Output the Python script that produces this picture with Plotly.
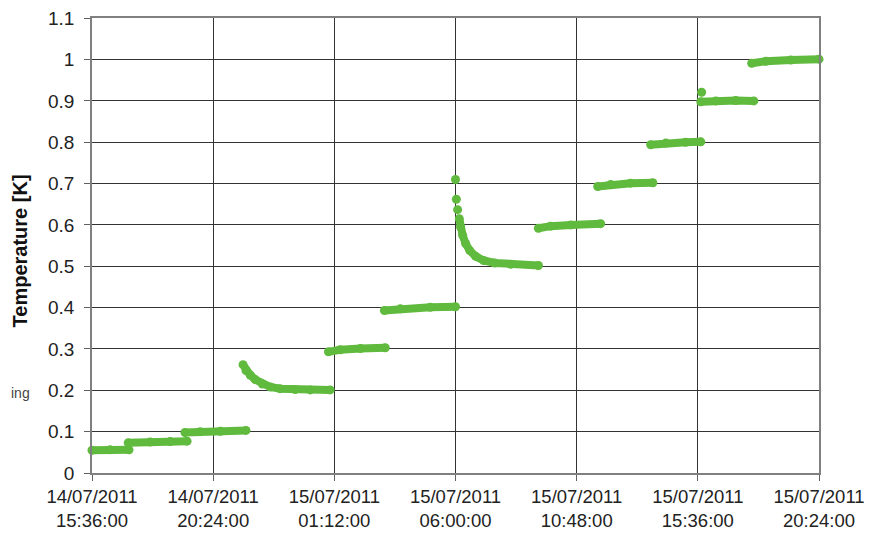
import plotly.graph_objects as go

GREEN = "#5fba3e"

# Continuous temperature plateaus / relaxations (None separates segments)
times = [
    "2011-07-14 15:36", "2011-07-14 16:19", "2011-07-14 17:04", None,
    "2011-07-14 17:02", "2011-07-14 17:54", "2011-07-14 18:42", "2011-07-14 19:22", None,
    "2011-07-14 19:17", "2011-07-14 19:53", "2011-07-14 20:41", "2011-07-14 21:42", None,
    "2011-07-14 21:35", "2011-07-14 21:42", "2011-07-14 21:52", "2011-07-14 22:04", "2011-07-14 22:21",
    "2011-07-14 22:40", "2011-07-14 23:03", "2011-07-14 23:39", "2011-07-15 00:15", "2011-07-15 01:02", None,
    "2011-07-15 00:58", "2011-07-15 01:26", "2011-07-15 02:14", "2011-07-15 03:13", None,
    "2011-07-15 03:11", "2011-07-15 03:49", "2011-07-15 05:00", "2011-07-15 06:00", None,
    "2011-07-15 06:09", "2011-07-15 06:12", "2011-07-15 06:17", "2011-07-15 06:24", "2011-07-15 06:34",
    "2011-07-15 06:48", "2011-07-15 07:07", "2011-07-15 07:33", "2011-07-15 08:11", "2011-07-15 09:17", None,
    "2011-07-15 09:17", "2011-07-15 09:46", "2011-07-15 10:34", "2011-07-15 11:45", None,
    "2011-07-15 11:38", "2011-07-15 12:09", "2011-07-15 12:56", "2011-07-15 13:49", None,
    "2011-07-15 13:44", "2011-07-15 14:20", "2011-07-15 15:07", "2011-07-15 15:43", None,
    "2011-07-15 15:43", "2011-07-15 16:19", "2011-07-15 17:06", "2011-07-15 17:49", None,
    "2011-07-15 17:44", "2011-07-15 18:18", "2011-07-15 19:17", "2011-07-15 20:24",
]
temps = [
    0.055, 0.056, 0.056, None,
    0.073, 0.075, 0.076, 0.077, None,
    0.098, 0.100, 0.101, 0.103, None,
    0.262, 0.248, 0.237, 0.226, 0.215,
    0.208, 0.204, 0.202, 0.201, 0.201, None,
    0.293, 0.298, 0.301, 0.303, None,
    0.393, 0.397, 0.401, 0.402, None,
    0.615, 0.595, 0.575, 0.555, 0.538,
    0.524, 0.514, 0.508, 0.505, 0.502, None,
    0.592, 0.597, 0.600, 0.603, None,
    0.693, 0.698, 0.701, 0.702, None,
    0.794, 0.798, 0.800, 0.801, None,
    0.898, 0.900, 0.901, 0.900, None,
    0.991, 0.996, 0.999, 1.001,
]

# Isolated spike points
spike_times = ["2011-07-15 06:00", "2011-07-15 06:02", "2011-07-15 06:05", "2011-07-15 15:45"]
spike_temps = [0.710, 0.662, 0.637, 0.921]

tick_vals = ["2011-07-14 15:36", "2011-07-14 20:24", "2011-07-15 01:12", "2011-07-15 06:00",
             "2011-07-15 10:48", "2011-07-15 15:36", "2011-07-15 20:24"]
tick_text = ["14/07/2011<br>15:36:00", "14/07/2011<br>20:24:00", "15/07/2011<br>01:12:00",
             "15/07/2011<br>06:00:00", "15/07/2011<br>10:48:00", "15/07/2011<br>15:36:00",
             "15/07/2011<br>20:24:00"]
y_ticks = [0, 0.1, 0.2, 0.3, 0.4, 0.5, 0.6, 0.7, 0.8, 0.9, 1, 1.1]
y_text = ["0", "0.1", "0.2", "0.3", "0.4", "0.5", "0.6", "0.7", "0.8", "0.9", "1", "1.1"]

fig = go.Figure()
fig.add_trace(go.Scatter(x=times, y=temps, mode="lines+markers",
                         line=dict(color=GREEN, width=8),
                         marker=dict(color=GREEN, size=9),
                         connectgaps=False, showlegend=False, hoverinfo="skip",
                         cliponaxis=False))
fig.add_trace(go.Scatter(x=spike_times, y=spike_temps, mode="markers",
                         marker=dict(color=GREEN, size=9),
                         showlegend=False, hoverinfo="skip"))

fig.update_layout(
    width=874, height=535,
    margin=dict(l=84, r=63, t=10, b=70),
    paper_bgcolor="white", plot_bgcolor="white",
    font=dict(family="Liberation Sans, Arial, sans-serif", size=19, color="#222222"),
    xaxis=dict(type="date", range=["2011-07-14 15:36", "2011-07-15 20:24"],
               tickmode="array", tickvals=tick_vals, ticktext=tick_text,
               showgrid=True, gridcolor="#333333", gridwidth=1,
               showline=True, linecolor="#808080", linewidth=1.5, mirror=True,
               ticks="outside", ticklen=6, tickcolor="#606060",
               zeroline=False, automargin=False, tickfont=dict(size=18.5)),
    yaxis=dict(range=[0, 1.1005], tickmode="array", tickvals=y_ticks, ticktext=y_text,
               showgrid=True, gridcolor="#333333", gridwidth=1,
               showline=True, linecolor="#808080", linewidth=1.5, mirror=True,
               ticks="outside", ticklen=6, tickcolor="#606060", ticklabelstandoff=6,
               ticklabeloverflow="allow",
               zeroline=False, automargin=False, tickfont=dict(size=19)),
    annotations=[
        dict(text="<b>Temperature [K]</b>", xref="paper", yref="paper",
             x=-0.099, y=0.487, textangle=-90, showarrow=False,
             font=dict(size=20, color="#111111"), xanchor="center", yanchor="middle"),
        dict(text="ing", xref="paper", yref="paper", x=-0.1148, y=0.175,
             showarrow=False, xanchor="left", yanchor="middle",
             font=dict(size=14, color="#444444")),
    ],
)

fig.write_html("out.html")
